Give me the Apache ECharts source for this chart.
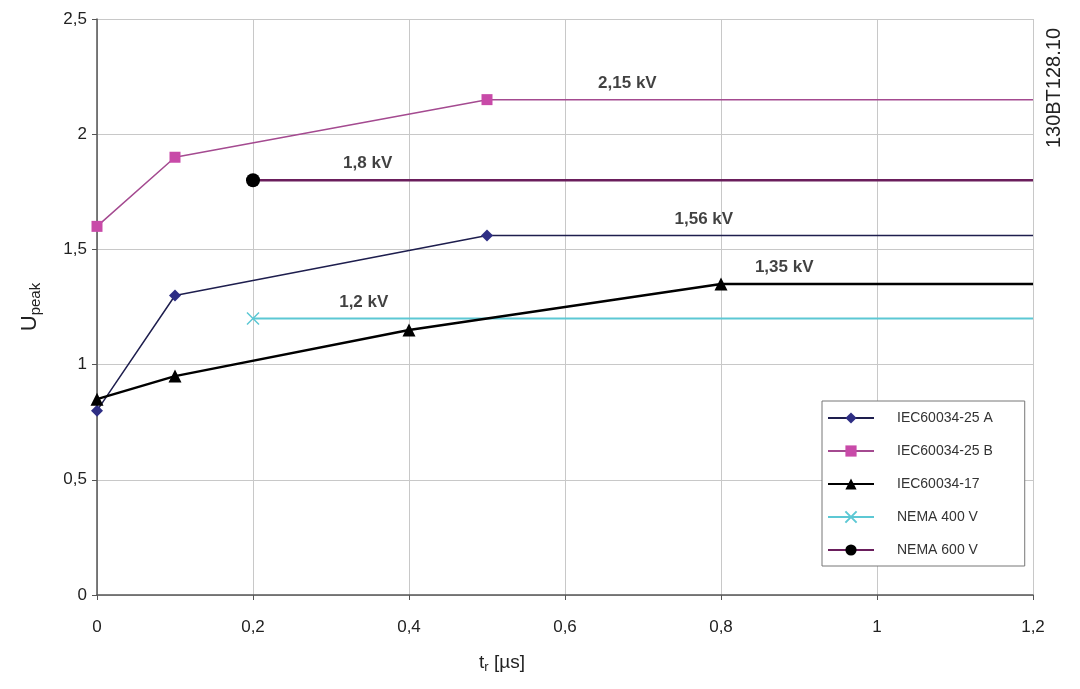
<!DOCTYPE html>
<html>
<head>
<meta charset="utf-8">
<script src="https://cdn.jsdelivr.net/npm/echarts@6/dist/echarts.min.js"></script>
<style>
  html, body { margin: 0; padding: 0; background: #fff; }
  #chart { width: 1080px; height: 689px; }
</style>
</head>
<body>
<div id="chart"></div>
<script>
// series values [tr (µs), Upeak (kV)]; the last point of each line is the flat extension (no marker)
const seriesNames = ['IEC60034-25 A', 'IEC60034-25 B', 'IEC60034-17', 'NEMA 400 V', 'NEMA 600 V']
const iecA = [[0, 0.8], [0.1, 1.3], [0.5, 1.56], [1.2, 1.56]]
const iecB = [[0, 1.6], [0.1, 1.9], [0.5, 2.15], [1.2, 2.15]]
const iec17 = [[0, 0.85], [0.1, 0.95], [0.4, 1.15], [0.8, 1.35], [1.2, 1.35]]
const nema400 = [[0.2, 1.2], [1.2, 1.2]]
const nema600 = [[0.2, 1.8], [1.2, 1.8]]

// value annotations placed on the lines
const noteX = [0.68, 0.347, 0.778, 0.881, 0.342]
const noteY = [2.15, 1.8, 1.56, 1.35, 1.2]
const noteText = ['2,15 kV', '1,8 kV', '1,56 kV', '1,35 kV', '1,2 kV']

const FONT = '"Liberation Sans", Arial, sans-serif'
const comma = v => String(v).replace('.', ',')

function pts(arr) {
  return arr.map((p, i) => i === arr.length - 1 ? { value: p, symbol: 'none' } : p)
}

const chart = echarts.init(document.getElementById('chart'))

const styles = [
  { symbol: 'diamond', size: 12, marker: '#2e2e84', line: '#1e1e4e', width: 1.5 },
  { symbol: 'rect', size: 11, marker: '#c84aa8', line: '#a44a90', width: 1.5 },
  { symbol: 'triangle', size: 13, marker: '#000', line: '#000', width: 2.5 },
  { symbol: 'path://M0,0L10,10M10,0L0,10', size: 12, marker: '#5cc8d4', line: '#5cc8d4', width: 2 },
  { symbol: 'circle', size: 14, marker: '#000', line: '#6a1e5c', width: 2.5 }
]
const datasets = [iecA, iecB, iec17, nema400, nema600]

const lineSeries = datasets.map((d, i) => ({
  name: seriesNames[i],
  type: 'line',
  data: pts(d),
  symbol: styles[i].symbol,
  symbolSize: styles[i].size,
  showAllSymbol: true,
  itemStyle: { color: styles[i].marker, borderColor: styles[i].marker, borderWidth: i === 3 ? 1.5 : 0 },
  lineStyle: { color: styles[i].line, width: styles[i].width },
  emphasis: { disabled: true },
  animation: false,
  z: i === 2 ? 4 : 3
}))

lineSeries.push({
  type: 'scatter',
  data: noteX.map((x, i) => ({ value: [x, noteY[i]], label: { formatter: noteText[i] } })),
  symbolSize: 0,
  silent: true,
  label: {
    show: true, position: 'top', distance: 8,
    fontFamily: FONT, fontSize: 17, fontWeight: 'bold', color: '#111'
  },
  z: 5
})

chart.setOption({
  backgroundColor: '#fff',
  animation: false,
  grid: { left: 97, right: 47, top: 19, bottom: 94 },
  legend: {
    data: seriesNames,
    orient: 'vertical',
    left: 822,
    top: 401,
    backgroundColor: '#fff',
    borderColor: '#777',
    borderWidth: 1,
    padding: [10, 32, 9, 5],
    itemWidth: 46,
    itemHeight: 14,
    itemGap: 19,
    textStyle: { fontFamily: FONT, fontSize: 14, color: '#333', padding: [0, 0, 0, 18] }
  },
  xAxis: {
    type: 'value',
    min: 0, max: 1.2, interval: 0.2,
    name: '{a|t}{b|r}{a| [µs]}',
    nameLocation: 'middle',
    nameGap: 56,
    nameTextStyle: {
      padding: [0, 126, 0, 0],
      rich: {
        a: { fontFamily: FONT, fontSize: 19, color: '#222' },
        b: { fontFamily: FONT, fontSize: 13, color: '#222', padding: [10, 0, 0, 0] }
      }
    },
    axisLine: { lineStyle: { color: '#555', width: 1.5 } },
    axisTick: { show: true, length: 5, lineStyle: { color: '#555' } },
    axisLabel: { margin: 24, fontFamily: FONT, fontSize: 17, color: '#222', formatter: comma },
    splitLine: { lineStyle: { color: '#c8c8c8' } }
  },
  yAxis: {
    type: 'value',
    min: 0, max: 2.5, interval: 0.5,
    name: '{a|U}{b|peak}',
    nameLocation: 'middle',
    nameRotate: 90,
    nameGap: 54,
    nameTextStyle: {
      rich: {
        a: { fontFamily: FONT, fontSize: 22, color: '#222' },
        b: { fontFamily: FONT, fontSize: 15, color: '#222', padding: [11, 0, 0, 0] }
      }
    },
    axisLine: { show: true, lineStyle: { color: '#555', width: 1.5 } },
    axisTick: { show: true, length: 5, lineStyle: { color: '#555' } },
    axisLabel: { margin: 10, fontFamily: FONT, fontSize: 17, color: '#222', formatter: comma },
    splitLine: { lineStyle: { color: '#c8c8c8' } }
  },
  graphic: [{
    type: 'text',
    left: 1044,
    top: 28,
    rotation: Math.PI / 2,
    style: { text: '130BT128.10', fontFamily: FONT, fontSize: 20, fill: '#222' }
  }],
  series: lineSeries
})
</script>
</body>
</html>
